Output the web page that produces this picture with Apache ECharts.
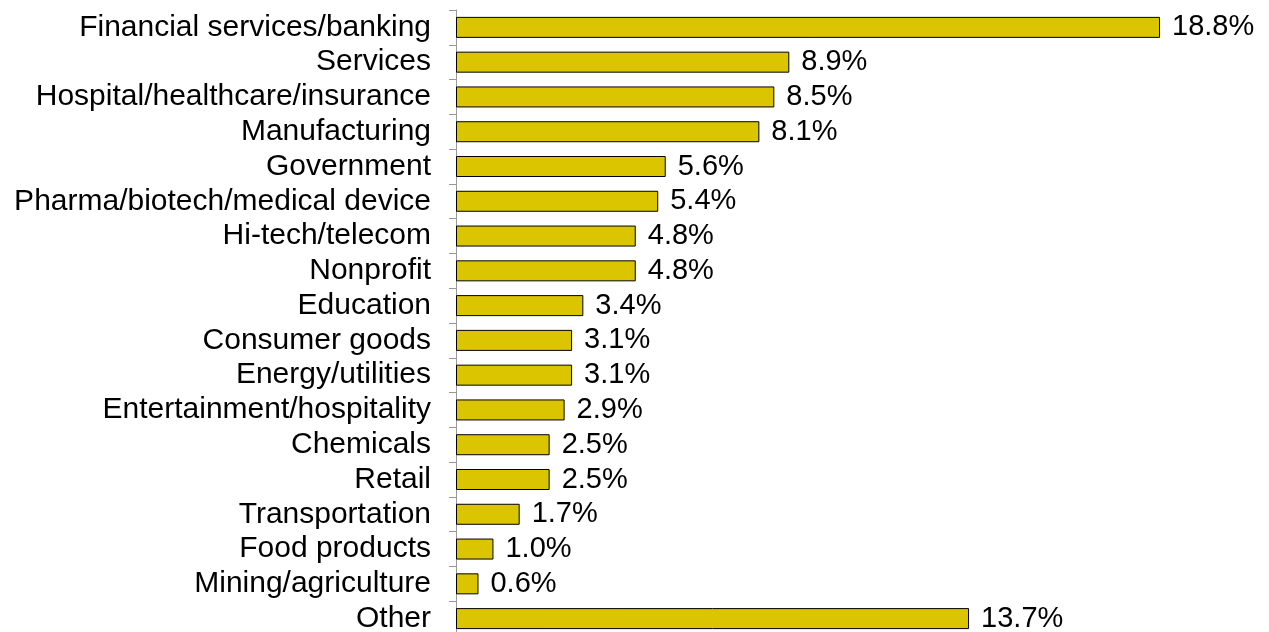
<!DOCTYPE html>
<html>
<head>
<meta charset="utf-8">
<script src="https://cdn.jsdelivr.net/npm/echarts@6/dist/echarts.min.js"></script>
<style>
  html, body { margin: 0; padding: 0; background: #fff; overflow: hidden; }
  /* the last row runs a few pixels past the bottom edge of the page */
  #chart { width: 1269px; height: 640px; }
</style>
</head>
<body>
<div id="chart"></div>
<script>
// Share of respondents by industry (%)
const industries = [
  'Financial services/banking', 'Services', 'Hospital/healthcare/insurance',
  'Manufacturing', 'Government', 'Pharma/biotech/medical device',
  'Hi-tech/telecom', 'Nonprofit', 'Education', 'Consumer goods',
  'Energy/utilities', 'Entertainment/hospitality', 'Chemicals', 'Retail',
  'Transportation', 'Food products', 'Mining/agriculture', 'Other'
];
const shares = [18.8, 8.9, 8.5, 8.1, 5.6, 5.4, 4.8, 4.8, 3.4, 3.1, 3.1, 2.9, 2.5, 2.5, 1.7, 1.0, 0.6, 13.7];

const chart = echarts.init(document.getElementById('chart'), null, { renderer: 'canvas' });
chart.setOption({
  animation: false,
  backgroundColor: '#ffffff',
  grid: { left: 456, right: 64, top: 10, height: 626 },
  xAxis: {
    type: 'value', min: 0, max: 20, show: false
  },
  yAxis: {
    type: 'category',
    data: industries,
    inverse: true,
    axisLine: { show: true, lineStyle: { color: '#999999', width: 1 } },
    axisTick: { show: true, length: 7, interval: 0, lineStyle: { color: '#999999' } },
    axisLabel: {
      interval: 0,
      color: '#000000', fontFamily: 'Liberation Sans, Arial, sans-serif',
      fontSize: 30, margin: 25
    }
  },
  series: [{
    type: 'bar',
    data: shares,
    barWidth: 21,
    itemStyle: { color: '#DBC500', borderColor: '#000000', borderWidth: 1 },
    label: {
      show: true, position: 'right', distance: 12,
      color: '#000000', fontFamily: 'Liberation Sans, Arial, sans-serif', fontSize: 29,
      formatter: p => p.value.toFixed(1) + '%'
    }
  }]
});
</script>
</body>
</html>
